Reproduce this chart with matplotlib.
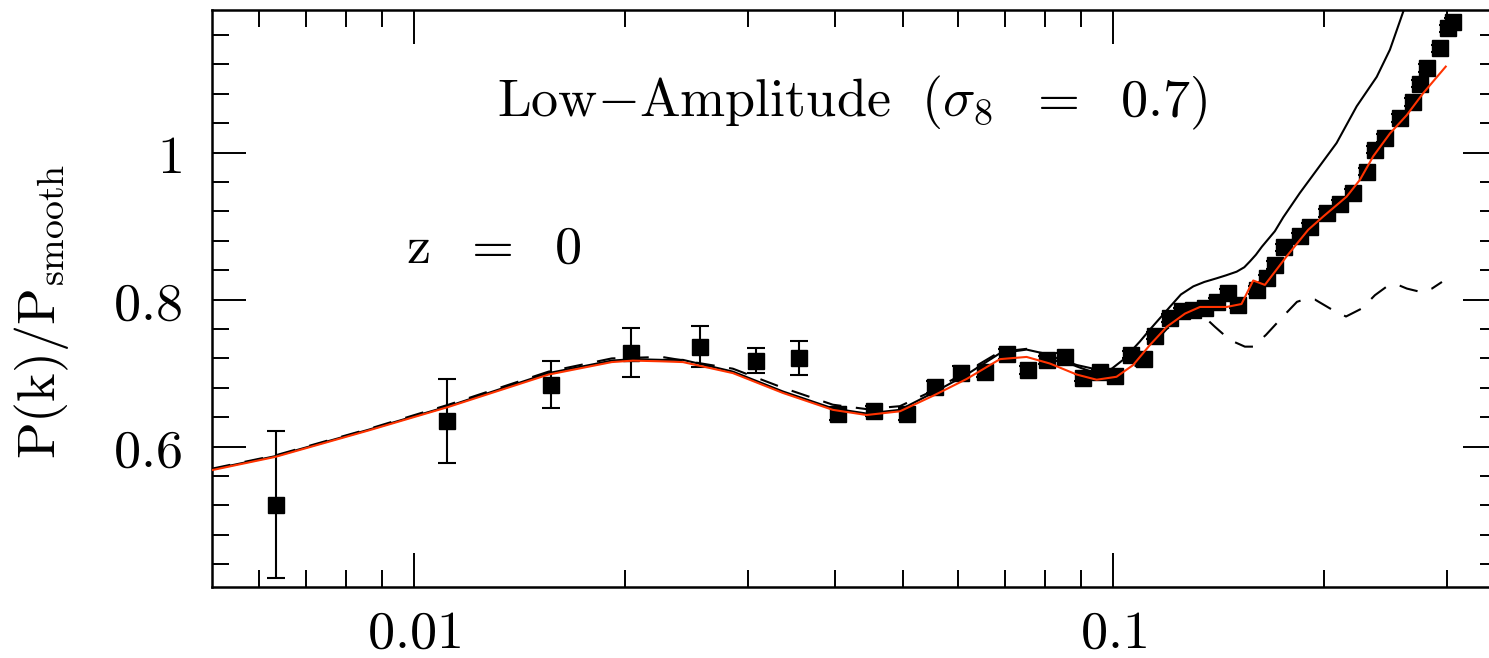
import numpy as np
import matplotlib
matplotlib.use("Agg")
import matplotlib.pyplot as plt
from matplotlib.ticker import FixedLocator, MultipleLocator, FixedFormatter, NullFormatter

plt.rcParams["mathtext.fontset"] = "cm"
plt.rcParams["font.family"] = ["DejaVu Serif"]

# measured power spectrum ratio (points)
k_data = [0.00634, 0.01116, 0.01570, 0.02044, 0.02566, 0.03083, 0.03550,
          0.04035, 0.04548, 0.05064, 0.05558, 0.06050, 0.06554, 0.07040,
          0.07543, 0.08029, 0.08529, 0.09060, 0.09572, 0.1006, 0.1059,
          0.1106, 0.1149, 0.1205, 0.1253, 0.1302, 0.1353, 0.1406, 0.1461,
          0.1510, 0.1604, 0.1658, 0.1703, 0.1755, 0.1849, 0.1911, 0.2020,
          0.2111, 0.2204, 0.2304, 0.2368, 0.2448, 0.2571, 0.2686, 0.2747,
          0.2808, 0.2934, 0.3016, 0.3066]
ratio_data = [0.521, 0.635, 0.684, 0.728, 0.736, 0.717, 0.721,
              0.645, 0.648, 0.644, 0.681, 0.700, 0.701, 0.726,
              0.704, 0.718, 0.722, 0.694, 0.701, 0.696, 0.725,
              0.719, 0.751, 0.775, 0.784, 0.786, 0.788, 0.797, 0.809,
              0.793, 0.813, 0.829, 0.847, 0.871, 0.886, 0.899, 0.918,
              0.930, 0.945, 0.974, 1.004, 1.020, 1.047, 1.069, 1.094,
              1.115, 1.142, 1.169, 1.178]
err_data = [0.100, 0.057, 0.032, 0.033, 0.028, 0.017, 0.023,
            0.009, 0.007, 0.008, 0.008, 0.010, 0.006, 0.007,
            0.005, 0.005, 0.005, 0.005, 0.005, 0.005, 0.005,
            0.005, 0.005, 0.005, 0.005, 0.005, 0.005, 0.005, 0.005,
            0.005, 0.005, 0.005, 0.005, 0.005, 0.005, 0.005, 0.005,
            0.005, 0.005, 0.005, 0.005, 0.005, 0.005, 0.005, 0.005,
            0.005, 0.005, 0.005, 0.005]

# model curves
k_solid = [0.00514, 0.00633, 0.00861, 0.0112, 0.01557, 0.01918, 0.02056,
           0.02262, 0.02424, 0.02858, 0.0337, 0.03972, 0.04438, 0.04953,
           0.05522, 0.06171, 0.06887, 0.07518, 0.0794, 0.0887, 0.0957,
           0.0989, 0.1033, 0.1092, 0.1128, 0.1205, 0.1250, 0.1302, 0.1350,
           0.1406, 0.1450, 0.1502, 0.1540, 0.1569, 0.1600, 0.1632, 0.1703,
           0.1751, 0.1849, 0.1954, 0.2087, 0.2230, 0.2382, 0.2488, 0.2600,
           0.2658]
ratio_solid = [0.569, 0.587, 0.623, 0.655, 0.700, 0.717, 0.719,
               0.718, 0.718, 0.702, 0.675, 0.652, 0.645, 0.650,
               0.673, 0.698, 0.727, 0.732, 0.727, 0.711, 0.704,
               0.704, 0.718, 0.743, 0.759, 0.790, 0.807, 0.818, 0.824,
               0.829, 0.833, 0.838, 0.844, 0.852, 0.861, 0.872, 0.893,
               0.912, 0.945, 0.976, 1.013, 1.063, 1.103, 1.140, 1.192,
               1.220]

k_red = [0.00514, 0.00633, 0.00861, 0.0112, 0.01557, 0.01918, 0.02056,
         0.02262, 0.02424, 0.02858, 0.0337, 0.03972, 0.04438, 0.04953,
         0.05522, 0.06171, 0.06887, 0.07518, 0.0812, 0.0887, 0.0947,
         0.1011, 0.1068, 0.1128, 0.1193, 0.1267, 0.1331, 0.1453, 0.1526,
         0.1586, 0.1648, 0.1771, 0.1901, 0.1997, 0.2157, 0.2254, 0.2355,
         0.2488, 0.2630, 0.2777, 0.2990]
ratio_red = [0.568, 0.586, 0.622, 0.654, 0.698, 0.715, 0.717,
             0.716, 0.715, 0.700, 0.673, 0.650, 0.643, 0.648,
             0.669, 0.692, 0.719, 0.722, 0.713, 0.698, 0.691,
             0.695, 0.711, 0.738, 0.763, 0.781, 0.790, 0.790, 0.794,
             0.826, 0.820, 0.859, 0.895, 0.913, 0.940, 0.963, 0.995,
             1.026, 1.051, 1.081, 1.117]

k_dash = [0.00514, 0.00633, 0.00861, 0.0112, 0.01557, 0.01918, 0.02262,
          0.02858, 0.0337, 0.03972, 0.04438, 0.04953, 0.05522, 0.06171,
          0.06887, 0.07518, 0.0812, 0.0887, 0.0957, 0.1011, 0.1068,
          0.1154, 0.1193, 0.1267, 0.1331, 0.1398, 0.1469, 0.1543, 0.1585,
          0.1654, 0.1749, 0.1832, 0.1887, 0.1944, 0.2042, 0.2153, 0.2269,
          0.2368, 0.2472, 0.2555, 0.2631, 0.2764, 0.2857, 0.2953]
ratio_dash = [0.570, 0.588, 0.624, 0.657, 0.702, 0.720, 0.722,
              0.706, 0.680, 0.657, 0.651, 0.655, 0.676, 0.702,
              0.729, 0.733, 0.724, 0.709, 0.698, 0.697, 0.706,
              0.745, 0.760, 0.778, 0.782, 0.763, 0.745, 0.736, 0.736,
              0.752, 0.777, 0.797, 0.801, 0.800, 0.788, 0.777, 0.788,
              0.806, 0.819, 0.820, 0.815, 0.810, 0.815, 0.824]

FS = 39

fig = plt.figure(figsize=(14.89, 6.58), dpi=100)
ax = fig.add_axes([212 / 1489, 1 - 587 / 658, (1497 - 212) / 1489, (587 - 10) / 658])

ax.errorbar(k_data, ratio_data, yerr=err_data, fmt="s", color="black",
            ms=11, elinewidth=1.5, capsize=6.8, capthick=1.5, zorder=2)
ax.plot(k_dash, ratio_dash, color="black", lw=1.5, dashes=(9, 7), zorder=3)
ax.plot(k_solid, ratio_solid, color="black", lw=1.5, zorder=3)
ax.plot(k_red, ratio_red, color="#ff3300", lw=1.5, zorder=4)

ax.set_xscale("log")
ax.set_xlim(0.00514, 0.354)
ax.set_ylim(0.409, 1.194)

ax.xaxis.set_major_locator(FixedLocator([0.01, 0.1]))
ax.xaxis.set_major_formatter(FixedFormatter([r"$0.01$", r"$0.1$"]))
minors = [0.006, 0.007, 0.008, 0.009] + [0.01 * i for i in range(2, 10)] + [0.2, 0.3]
ax.xaxis.set_minor_locator(FixedLocator(minors))
ax.xaxis.set_minor_formatter(NullFormatter())

ax.yaxis.set_major_locator(FixedLocator([0.6, 0.8, 1.0]))
ax.yaxis.set_major_formatter(FixedFormatter([r"$0.6$", r"$0.8$", r"$1$"]))
ax.yaxis.set_minor_locator(MultipleLocator(0.04))

ax.tick_params(which="both", direction="in", top=True, right=True, width=1.4,
               labelsize=FS, color="black")
ax.tick_params(which="major", length=24.5)
ax.tick_params(axis="x", which="major", pad=14)
ax.tick_params(axis="y", which="major", pad=22)
ax.tick_params(which="minor", length=12.2)
for s in ax.spines.values():
    s.set_linewidth(1.8)

ax.text(852 / 1489, 1 - 103 / 658, r"$\mathrm{Low{-}Amplitude\ \ (\sigma_8\ \ =\ \ 0.7)}$",
        transform=fig.transFigure, fontsize=FS, ha="center", va="center")
ax.text(494 / 1489, 1 - 248 / 658, r"$\mathrm{z\ \ =\ \ 0}$",
        transform=fig.transFigure, fontsize=FS, ha="center", va="center")
fig.text(42 / 1489, 1 - 311 / 658, r"$\mathrm{P(k)/P_{smooth}}$", rotation=90,
         fontsize=FS, ha="center", va="center")

fig.savefig("out.png", dpi=100)
